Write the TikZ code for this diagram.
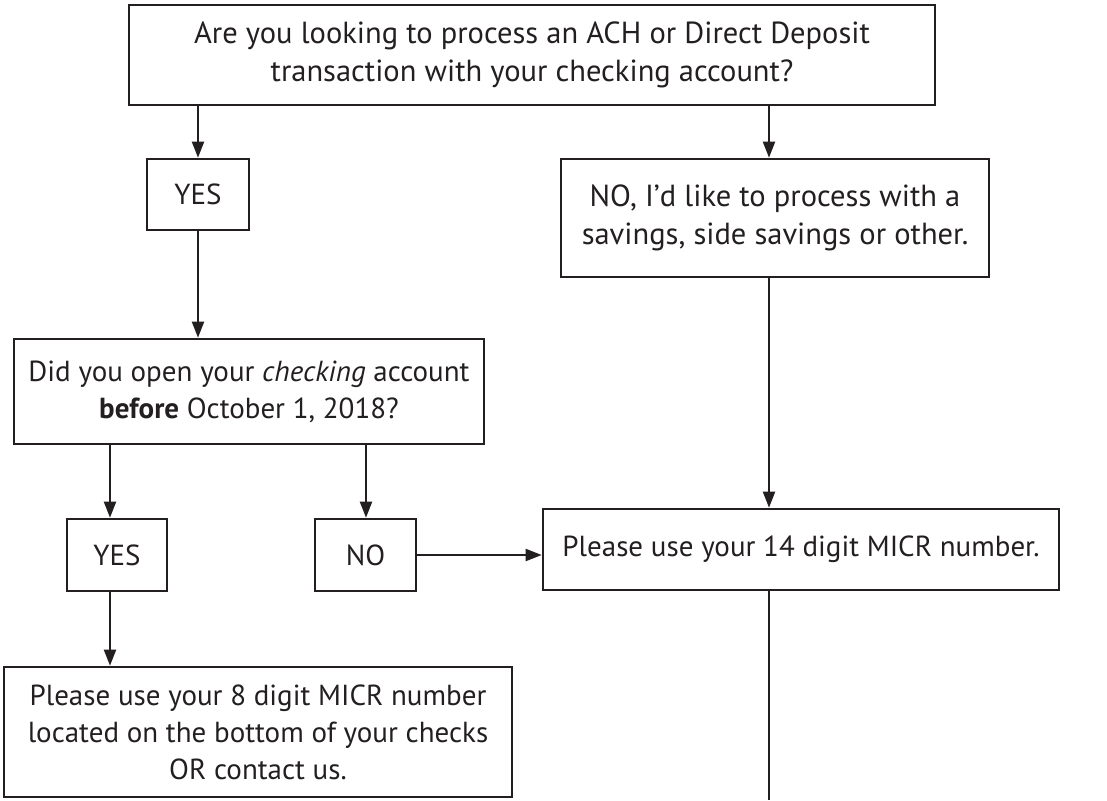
\documentclass[tikz,border=0pt]{standalone}
\usepackage{fontspec}
\setmainfont{PT Sans}
\usetikzlibrary{arrows.meta}
\definecolor{ink}{HTML}{231F20}
\begin{document}
\begin{tikzpicture}[x=1pt,y=-1pt,
  box/.style={draw=ink, line width=2.6pt, inner sep=0pt, align=center, text=ink,
    font=\fontsize{29}{37}\selectfont},
  wide/.style={font=\fontsize{30.5}{38}\selectfont},
  conn/.style={draw=ink, line width=2pt, -{Triangle[length=16pt,width=12pt]}},
  plain/.style={draw=ink, line width=2pt}]
\useasboundingbox (0,0) rectangle (1107,800);
\node[box, wide, minimum width=806pt, minimum height=100pt] (top) at (532,55)
  {Are you looking to process an ACH or Direct Deposit\\transaction with your checking account?};
\node[box, minimum width=102pt, minimum height=71pt] (yes1) at (198,194.5) {YES};
\node[box, wide, minimum width=428pt, minimum height=118pt] (no1) at (775,218)
  {NO, I’d like to process with a\\savings, side savings or other.};
\node[box, minimum width=470pt, minimum height=105pt] (did) at (249,391.5)
  {Did you open your \textit{checking} account\\\textbf{before} October 1, 2018?};
\node[box, minimum width=100pt, minimum height=72pt] (yes2) at (117,555) {YES};
\node[box, minimum width=101pt, minimum height=72pt] (no2) at (365.5,555) {NO};
\node[box, minimum width=516pt, minimum height=81pt] (micr) at (801,549.5)
  {Please use your 14 digit MICR number.};
\node[box, minimum width=508pt, minimum height=130pt] (bot) at (258,732)
  {Please use your 8 digit MICR number\\located on the bottom of your checks\\OR contact us.};
\coordinate (rx) at (769,0);
\coordinate (lx) at (198,0);
\coordinate (yx) at (110,0);
\coordinate (nx) at (366,0);
\coordinate (endp) at (769,800);
\draw[conn] (top.south -| lx) -- (yes1.north -| lx);
\draw[conn] (top.south -| rx) -- (no1.north -| rx);
\draw[conn] (yes1.south -| lx) -- (did.north -| lx);
\draw[conn] (no1.south -| rx) -- (micr.north -| rx);
\draw[conn] (did.south -| yx) -- (yes2.north -| yx);
\draw[conn] (did.south -| nx) -- (no2.north -| nx);
\draw[conn] (no2.east) -- (micr.west |- no2.east);
\draw[conn] (yes2.south -| yx) -- (bot.north -| yx);
\draw[plain] (micr.south -| rx) -- (endp);
\end{tikzpicture}
\end{document}
